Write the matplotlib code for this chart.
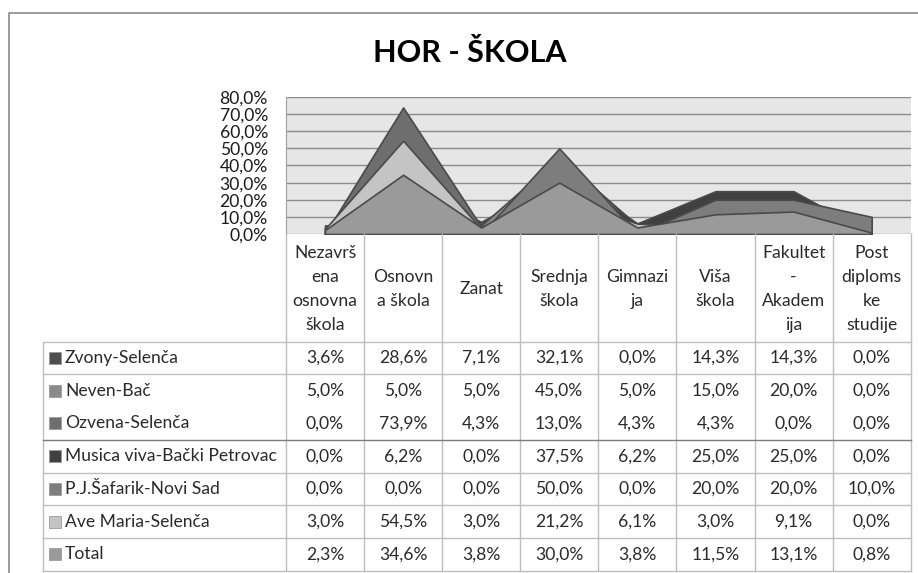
import matplotlib
matplotlib.use("Agg")
import matplotlib.pyplot as plt
from matplotlib.patches import Rectangle

# ---------------- data ----------------
title = "HOR - ŠKOLA"
categories = ["Nezavrš\nena\nosnovna\nškola", "Osnovn\na škola", "Zanat",
              "Srednja\nškola", "Gimnazi\nja", "Viša\nškola",
              "Fakultet\n-\nAkadem\nija", "Post\ndiploms\nke\nstudije"]
series_names = ["Zvony-Selenča", "Neven-Bač", "Ozvena-Selenča",
                "Musica viva-Bački Petrovac", "P.J.Šafarik-Novi Sad",
                "Ave Maria-Selenča", "Total"]
zvony = [3.6, 28.6, 7.1, 32.1, 0.0, 14.3, 14.3, 0.0]
neven = [5.0, 5.0, 5.0, 45.0, 5.0, 15.0, 20.0, 0.0]
ozvena = [0.0, 73.9, 4.3, 13.0, 4.3, 4.3, 0.0, 0.0]
musica = [0.0, 6.2, 0.0, 37.5, 6.2, 25.0, 25.0, 0.0]
safarik = [0.0, 0.0, 0.0, 50.0, 0.0, 20.0, 20.0, 10.0]
ave_maria = [3.0, 54.5, 3.0, 21.2, 6.1, 3.0, 9.1, 0.0]
total = [2.3, 34.6, 3.8, 30.0, 3.8, 11.5, 13.1, 0.8]
series_values = [zvony, neven, ozvena, musica, safarik, ave_maria, total]
yticks = [0, 10, 20, 30, 40, 50, 60, 70, 80]

# ---------------- style ----------------
colors = ["#4d4d4d", "#8a8a8a", "#6e6e6e", "#404040", "#7d7d7d", "#c4c4c4", "#9a9a9a"]
FONT = "Lato"
FS = 12.6
W, H = 918, 573
fig = plt.figure(figsize=(W / 100, H / 100), dpi=100)
fig.patch.set_facecolor("white")

# plot area pixel box
pl, pr, pt, pb = 286, 910.7, 97, 234
ax = fig.add_axes([pl / W, 1 - pb / H, (pr - pl) / W, (pb - pt) / H])
ax.set_facecolor("#e6e6e6")
n = len(categories)
x = list(range(n))
ax.set_xlim(-0.5, n - 0.5)
ax.set_ylim(0, 80)
ax.set_yticks(yticks)
ax.set_yticklabels([f"{v:.1f}%".replace(".", ",") for v in yticks],
                   fontfamily=FONT, fontsize=FS, color="#1a1a1a")
ax.tick_params(axis="y", length=0, pad=13)
ax.set_xticks([])
ax.yaxis.grid(True, color="#8c8c8c", linewidth=1.0)
ax.set_axisbelow(True)
for s in ["top", "right", "bottom"]:
    ax.spines[s].set_visible(False)
ax.spines["left"].set_color("#a0a0a0")

for i, (name, vals) in enumerate(zip(series_names, series_values)):
    ax.fill_between(x, vals, 0, facecolor=colors[i], edgecolor="#4a4a4a",
                    linewidth=1.2, zorder=3 + i)

# ---------------- overlay for title, border, table ----------------
ov = fig.add_axes([0, 0, 1, 1])
ov.set_xlim(0, W)
ov.set_ylim(H, 0)
ov.axis("off")

# outer chart border
ov.plot([9, 9, W + 5], [H + 5, 13, 13], color="#8a8a8a", linewidth=1.2)

ov.text(470, 53, title, ha="center", va="center", fontfamily=FONT,
        fontsize=22, fontweight="bold", color="black")

# table geometry
col_edges = [pl + (pr - pl) * k / n for k in range(n + 1)]
label_left = 43
head_top, head_bot = pb, 341.7
row_h = 32.7
nrows = len(series_names)
row_edges = [head_bot + row_h * k for k in range(nrows + 1)]
line_c = "#bdbdbd"
txt_c = "#2a2a2a"

# vertical lines
for xe in col_edges:
    ov.plot([xe, xe], [head_top, row_edges[-1]], color=line_c, linewidth=1.0)
ov.plot([label_left, label_left], [head_bot, row_edges[-1]], color=line_c, linewidth=1.0)
# horizontal lines (no line between Neven and Ozvena rows)
for k, ye in enumerate(row_edges):
    if k == 2:
        continue
    c = "#7a7a7a" if k == 3 else line_c
    ov.plot([label_left, col_edges[-1]], [ye, ye], color=c, linewidth=1.0)

# header text
for j, cat in enumerate(categories):
    cx = (col_edges[j] + col_edges[j + 1]) / 2
    ov.text(cx, (head_top + head_bot) / 2 + 1, cat, ha="center", va="center",
            fontfamily=FONT, fontsize=FS, color=txt_c, linespacing=1.6)

# rows
for r, (name, vals) in enumerate(zip(series_names, series_values)):
    cy = row_edges[r] + row_h / 2
    ov.add_patch(Rectangle((49, cy - 6), 12, 12, facecolor=colors[r],
                           edgecolor="#9a9a9a", linewidth=0.6))
    ov.text(65, cy, name, ha="left", va="center", fontfamily=FONT,
            fontsize=FS, color=txt_c)
    for j, v in enumerate(vals):
        cx = (col_edges[j] + col_edges[j + 1]) / 2
        ov.text(cx, cy, f"{v:.1f}%".replace(".", ","), ha="center", va="center",
                fontfamily=FONT, fontsize=FS, color=txt_c)

fig.savefig("out.png", dpi=100)
